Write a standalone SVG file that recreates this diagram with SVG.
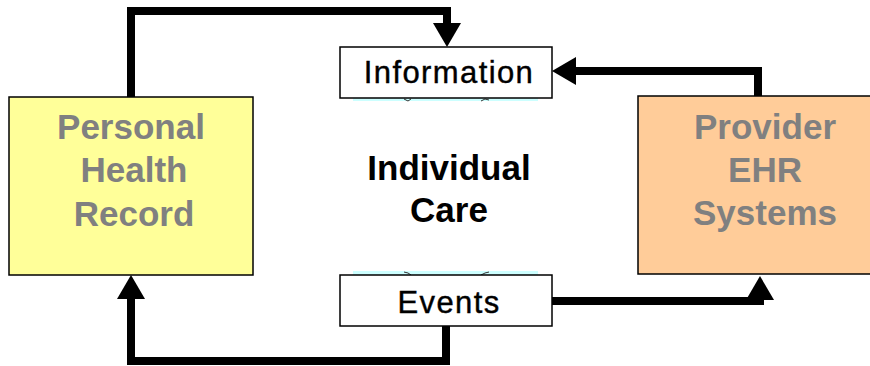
<svg xmlns="http://www.w3.org/2000/svg" width="870" height="366" viewBox="0 0 870 366">
<style>
.box{stroke:#000;stroke-width:1.5}
.conn{fill:none;stroke:#000;stroke-width:8;stroke-linejoin:miter}
.big{font-family:"Liberation Sans",Arial,sans-serif;font-weight:bold;font-size:35px;text-anchor:middle}
.gray{fill:#808080}
.lbl{font-family:"Liberation Sans",Arial,sans-serif;font-size:31px;letter-spacing:1.4px;text-anchor:middle;fill:#000;stroke:#000;stroke-width:0.4}
.strip{fill:#CCFFFF}
.tick{stroke:#333;stroke-width:1;fill:none}
</style>
<defs>
<marker id="arr" viewBox="0 0 24 28" refX="0" refY="14" markerUnits="userSpaceOnUse" markerWidth="24" markerHeight="28" orient="auto">
<path d="M0,0 L24,14 L0,28 z" fill="#000"/>
</marker>
</defs>
<rect width="870" height="366" fill="#fff"/>
<g id="connectors">
<path class="conn" d="M131,97 V11 H447 V23" marker-end="url(#arr)"/>
<path class="conn" d="M758,96 V71 H576" marker-end="url(#arr)"/>
<path class="conn" d="M552,301 H760 V300" marker-end="url(#arr)"/>
<path class="conn" d="M446,326 V361 H131 V299" marker-end="url(#arr)"/>
</g>
<g id="phr">
<rect class="box" x="9" y="97" width="244" height="178" fill="#FFFF99"/>
<text class="big gray" x="131" y="139">Personal</text>
<text class="big gray" x="134" y="182">Health</text>
<text class="big gray" x="134" y="226">Record</text>
</g>
<g id="provider">
<rect class="box" x="638" y="96" width="240" height="178" fill="#FFCC99"/>
<text class="big gray" x="765" y="139">Provider</text>
<text class="big gray" x="765" y="182">EHR</text>
<text class="big gray" x="765" y="225">Systems</text>
</g>
<g id="care">
<text class="big" x="449" y="180" fill="#000">Individual</text>
<text class="big" x="449" y="222" fill="#000">Care</text>
</g>
<g id="information">
<rect class="strip" x="353" y="97" width="185" height="4"/>
<path class="tick" d="M404,99 L408,101 L411,99 M481,101 L485,99 L489,100"/>
<rect class="box" x="340" y="47" width="212" height="51" fill="#fff"/>
<text class="lbl" x="449" y="83">Information</text>
</g>
<g id="events">
<rect class="strip" x="353" y="271" width="185" height="4"/>
<path class="tick" d="M404,272 L408,273 L411,275 M481,275 L485,273 L489,272"/>
<rect class="box" x="340" y="275" width="212" height="51" fill="#fff"/>
<text class="lbl" x="449" y="313">Events</text>
</g>
</svg>
